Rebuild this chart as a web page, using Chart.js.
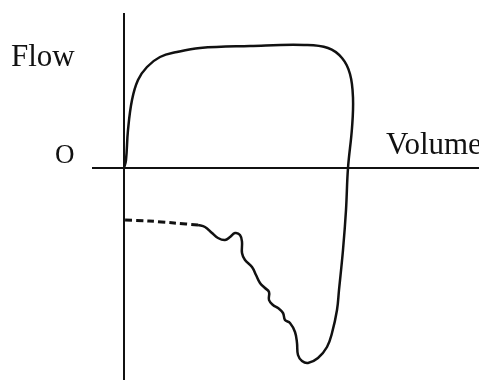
<!DOCTYPE html>
<html lang="en">
<head>
  <meta charset="UTF-8">
  <title>Flow-Volume Loop</title>
  <script src="https://cdn.jsdelivr.net/npm/chart.js"></script>
  <style>
    html, body {
      margin: 0;
      padding: 0;
      background: #ffffff;
    }
    .wrap {
      position: relative;
      width: 479px;
      height: 380px;
    }
  </style>
</head>
<body>

  <div class="wrap">
    <canvas id="loopChart" width="479" height="380"></canvas>
  </div>

  <script>
    // volume (x) and flow (y) in arbitrary units
    const loopVolume = [0, 0.2, 0.4, 0.8, 1.4, 2.3, 3.6, 5.3, 7.6, 12.6, 18.0, 20.4, 21.8, 22.6, 22.9, 22.8, 22.4,
      22.2, 21.9, 21.5, 21.3, 20.8, 20.3, 19.4, 18.4, 17.8, 17.4, 17.3, 17.1, 16.6, 16.1, 15.9, 15.4, 14.9,
      14.5, 14.5, 14.1, 13.6, 13.2, 12.8, 12.1, 11.8, 11.8, 11.6, 11.1, 10.6, 10.1, 9.4, 8.8, 8.1, 7.4];
    const loopFlow = [0, 0.8, 3.8, 6.8, 8.8, 10.1, 11.1, 11.6, 12.0, 12.2, 12.3, 12.0, 11.0, 9.4, 7.0, 4.0, 0,
      -4.2, -8.2, -12.2, -14.2, -16.5, -17.9, -19.0, -19.5, -19.3, -18.7, -17.5, -16.4, -15.5, -15.2, -14.5, -14.0, -13.7,
      -13.2, -12.4, -12.0, -11.5, -10.7, -9.9, -9.2, -8.5, -7.4, -6.7, -6.5, -6.9, -7.2, -7.0, -6.5, -5.9, -5.7];

    // dashed start of the inspiratory limb
    const dashVolume = [7.4, 5.0, 2.5, 0];
    const dashFlow = [-5.7, -5.5, -5.3, -5.2];

    // axis extents
    const flowAxisFlow = [15.5, -21.2];
    const volumeAxisVolume = [-3.2, 35.5];

    const toPoints = (xs, ys) => xs.map((x, i) => ({ x: x, y: ys[i] }));

    const labelPlugin = {
      id: 'labels',
      afterDraw(chart) {
        const c = chart.ctx;
        c.save();
        c.fillStyle = '#111';
        c.textBaseline = 'alphabetic';
        c.font = '31px "Liberation Serif", "Times New Roman", serif';
        c.fillText('Flow', 11, 66);
        c.fillText('Volume', 386, 154);
        c.font = '27px "Liberation Serif", "Times New Roman", serif';
        c.fillText('O', 55, 163);
        c.restore();
      }
    };

    new Chart(document.getElementById('loopChart'), {
      type: 'scatter',
      data: {
        datasets: [
          {
            data: toPoints([0, 0], flowAxisFlow),
            showLine: true,
            borderColor: '#111',
            borderWidth: 2,
            pointRadius: 0,
            tension: 0
          },
          {
            data: toPoints(volumeAxisVolume, [0, 0]),
            showLine: true,
            borderColor: '#111',
            borderWidth: 2,
            pointRadius: 0,
            tension: 0
          },
          {
            data: toPoints(loopVolume, loopFlow),
            showLine: true,
            borderColor: '#111',
            borderWidth: 2.5,
            pointRadius: 0,
            tension: 0.4
          },
          {
            data: toPoints(dashVolume, dashFlow),
            showLine: true,
            borderColor: '#111',
            borderWidth: 3,
            borderDash: [7, 4],
            pointRadius: 0,
            tension: 0.3
          }
        ]
      },
      options: {
        responsive: false,
        animation: false,
        layout: { padding: 0 },
        plugins: {
          legend: { display: false },
          tooltip: { enabled: false }
        },
        scales: {
          x: { type: 'linear', display: false, min: -12.4, max: 35.5 },
          y: { type: 'linear', display: false, min: -21.2, max: 16.8 }
        }
      },
      plugins: [labelPlugin]
    });
  </script>

</body>
</html>
